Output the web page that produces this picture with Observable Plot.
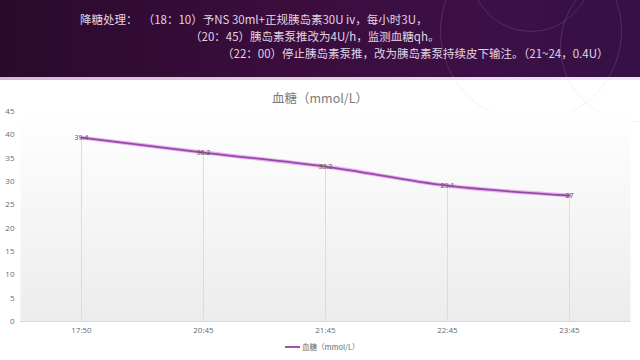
<!DOCTYPE html>
<html><head><meta charset="utf-8">
<script src="https://cdn.jsdelivr.net/npm/d3@7"></script>
<script src="https://cdn.jsdelivr.net/npm/@observablehq/plot@0.6"></script>
<style>
html,body{margin:0;padding:0;background:#fff;}
#wrap{position:relative;width:640px;height:360px;overflow:hidden;font-family:"Noto Sans CJK SC","Noto Sans",sans-serif;}
#banner{position:absolute;left:0;top:0;width:640px;height:79px;background:linear-gradient(90deg,#2a0a2c 0%,#3a0d3d 45%,#3c1046 75%,#361046 100%);}
#banner .edge{position:absolute;left:0;top:77px;width:640px;height:3px;background:linear-gradient(90deg,#d8b8d8,#f2e6f2);}
.ring{position:absolute;border:1px solid rgba(200,170,220,0.18);border-radius:50%;}
.bt{position:absolute;color:#e2d4e2;font-size:11.5px;white-space:nowrap;line-height:1;}
#title{position:absolute;left:0;width:640px;top:88px;text-align:center;color:#7a7a7a;font-size:12.5px;}
#chart{position:absolute;left:0;top:100px;}
#legend{position:absolute;top:341px;left:285px;font-size:7.5px;color:#6a6a6a;display:flex;align-items:center;}
#legend .sw{width:15px;height:2px;background:#a44fb3;margin-right:2px;}
</style></head>
<body><div id="wrap">
<div id="banner">
  <div class="ring" style="left:440px;top:-60px;width:180px;height:180px;"></div>
  <div class="ring" style="left:560px;top:-30px;width:150px;height:150px;"></div>
  <div class="ring" style="left:470px;top:-90px;width:120px;height:120px;"></div>
  <div class="bt" style="left:80px;top:14px;">降糖处理：&nbsp;&nbsp;（18：10）予NS 30ml+正规胰岛素30U iv，每小时3U，</div>
  <div class="bt" style="left:190px;top:31px;">（20：45）胰岛素泵推改为4U/h，监测血糖qh。</div>
  <div class="bt" style="left:222px;top:48px;">（22：00）停止胰岛素泵推，改为胰岛素泵持续皮下输注。（21~24，0.4U）</div>
  <div class="edge"></div>
</div>
<div id="title">血糖（mmol/L）</div>
<div id="chart"></div>
<div id="legend"><div class="sw"></div><span>血糖（mmol/L）</span></div>
</div>
<script>
const times = ["17:50","20:45","21:45","22:45","23:45"];
const glucose = [39.4, 36.2, 33.2, 29.1, 27];
const yTicks = [0,5,10,15,20,25,30,35,40,45];
const seriesName = "血糖（mmol/L）";

const data = times.map((t,i)=>({time:t, value:glucose[i]}));

const plot = Plot.plot({
  width: 640,
  height: 240,
  marginLeft: 20,
  marginRight: 10,
  marginTop: 11,
  marginBottom: 19,
  style: {fontFamily: "'Open Sans', 'Noto Sans', sans-serif", fontSize: "8px", color: "#606060", background: "transparent"},
  x: {type: "band", domain: times, padding: 0, label: null},
  y: {domain: [0,45], label: null},
  marks: [
    Plot.frame({fill: "url(#bgGrad)", stroke: null}),
    Plot.axisX({tickSize: 0, tickPadding: 6, fill: "#6a6a6a"}),
    Plot.axisY(yTicks, {tickSize: 0, tickPadding: 6, fill: "#6a6a6a", textAnchor: "end"}),
    Plot.ruleY([0], {stroke: "#d8d8d8"}),
    Plot.ruleX(data, {x: "time", y1: 0, y2: "value", stroke: "#dcdcdc", strokeWidth: 1}),
    Plot.line(data, {x: "time", y: "value", stroke: "#e3b5ea", strokeWidth: 4, curve: "monotone-x"}),
    Plot.line(data, {x: "time", y: "value", stroke: "#9b45ad", strokeWidth: 1.8, curve: "monotone-x"}),
    Plot.text(data, {x: "time", y: "value", text: d => String(d.value), fill: "#555", fontSize: 7})
  ]
});
const svg = d3.select(plot);
const defs = svg.insert("defs", ":first-child");
const g = defs.append("linearGradient").attr("id","bgGrad").attr("x1","0").attr("y1","0").attr("x2","0").attr("y2","1");
g.append("stop").attr("offset","0%").attr("stop-color","#ffffff");
g.append("stop").attr("offset","100%").attr("stop-color","#ececec");
document.getElementById("chart").appendChild(plot);
</script>
</body></html>
